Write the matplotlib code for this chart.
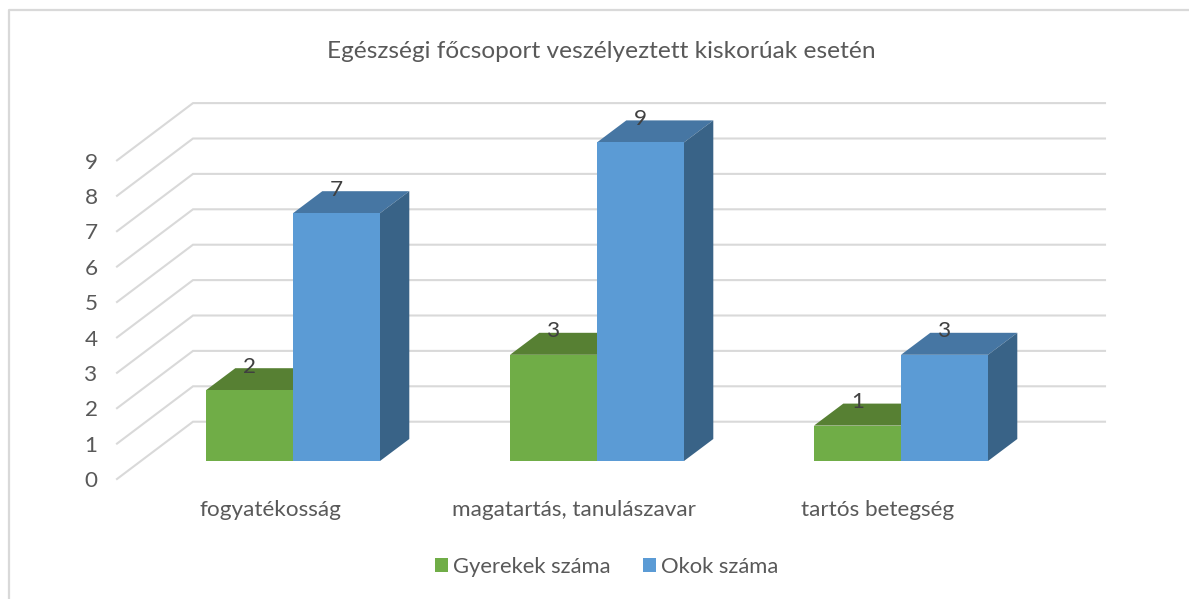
import matplotlib
matplotlib.use("Agg")
import matplotlib.pyplot as plt
from matplotlib.patches import Polygon

categories = ["fogyatékosság", "magatartás, tanulászavar", "tartós betegség"]
gyerekek = [2, 3, 1]
okok = [7, 9, 3]
y_ticks = [0, 1, 2, 3, 4, 5, 6, 7, 8, 9]
title = "Egészségi főcsoport veszélyeztett kiskorúak esetén"
series_names = ["Gyerekek száma", "Okok száma"]

W, H = 1189, 599
# pixel scale of the front plane of the bars
x0_px, y0_px = 293.0, 461.0
x_unit, y_unit = 304.0, 35.4
bar_w = 87.0 / x_unit
dep_x, dep_y = 29.3 / x_unit, 22.0 / y_unit

plt.rcParams["font.family"] = ["Lato", "DejaVu Sans"]
fig = plt.figure(figsize=(W / 100, H / 100), dpi=100)
ax = fig.add_axes([0, 0, 1, 1])
ax.set_xlim(-x0_px / x_unit, (W - x0_px) / x_unit)
ax.set_ylim(-(H - y0_px) / y_unit, y0_px / y_unit)
ax.axis("off")


def px_x(p):
    return (p - x0_px) / x_unit


def px_y(p):
    return (y0_px - p) / y_unit


# chart border
grey = "#d9d9d9"
ax.plot([px_x(9), px_x(9), px_x(W)], [px_y(H), px_y(10), px_y(10)], color=grey, lw=1.6, zorder=1)

# gridlines: side wall and back wall
off_front = px_y(479)
off_back = px_y(421.7)
for t in y_ticks:
    ax.plot([px_x(117), px_x(193), px_x(1105)],
            [t + off_front, t + off_back, t + off_back],
            color=grey, lw=1.5, zorder=1, solid_joinstyle="miter")
    ax.text(px_x(91), t + off_front - 0.06, str(t), ha="center", va="center",
            fontsize=16.2, color="#595959")


def draw_series(values, xoff, front, top, side, label, z):
    xs = [i + xoff for i in range(len(values))]
    bars = ax.bar(xs, values, width=bar_w, align="edge", color=front, zorder=z + 1, label=label)
    for x, v in zip(xs, values):
        x1 = x + bar_w
        ax.add_patch(Polygon([(x, v), (x1, v), (x1 + dep_x, v + dep_y), (x + dep_x, v + dep_y)],
                             closed=True, fc=top, ec="none", zorder=z))
        ax.add_patch(Polygon([(x1, 0), (x1 + dep_x, dep_y), (x1 + dep_x, v + dep_y), (x1, v)],
                             closed=True, fc=side, ec="none", zorder=z))
        ax.text(x + bar_w / 2, v + 0.66, str(v), ha="center", va="center",
                fontsize=16.2, color="#404040", zorder=10)
    return bars


draw_series(gyerekek, -bar_w, "#70ad47", "#578033", "#43632a", series_names[0], 3)
draw_series(okok, 0, "#5b9bd5", "#4676a3", "#396387", series_names[1], 5)

for i, c in enumerate(categories):
    ax.text(i + px_x(270), px_y(510), c, ha="center", va="center", fontsize=16.2, color="#595959")

ax.text(px_x(601), px_y(51), title, ha="center", va="center", fontsize=17.55, color="#595959")

ax.legend(loc="center", bbox_to_anchor=(606.5 / W, 1 - 567 / H), ncol=2, frameon=False,
          fontsize=15.8, labelcolor="#595959", handlelength=0.6, handleheight=0.6,
          handletextpad=0.2, columnspacing=1.5, borderpad=0)

fig.savefig("out.png", dpi=100, facecolor="white")
plt.close(fig)
